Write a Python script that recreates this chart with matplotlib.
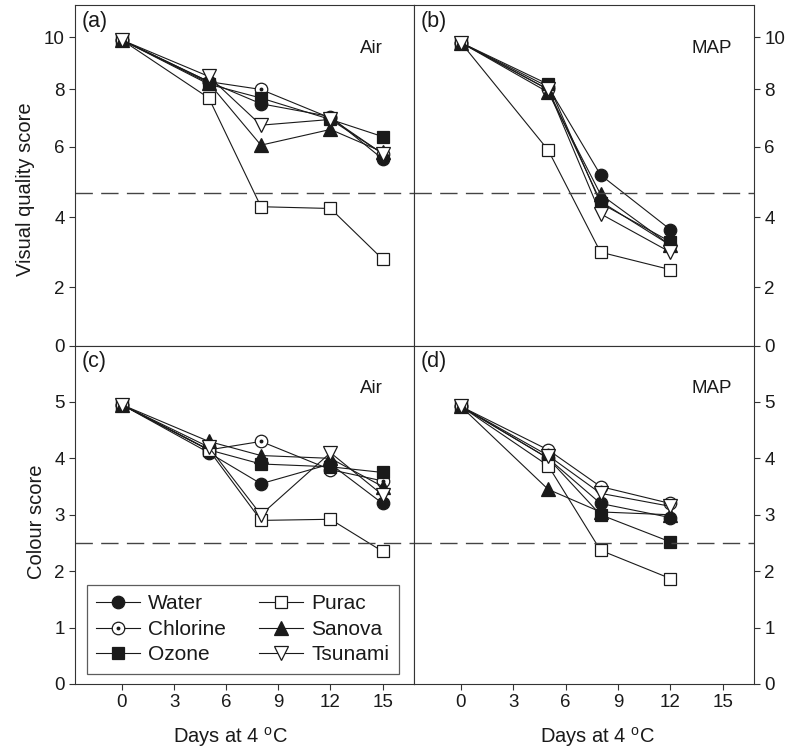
import numpy as np
import matplotlib
matplotlib.use('Agg')
import matplotlib.pyplot as plt
from matplotlib.lines import Line2D
from matplotlib.legend_handler import HandlerTuple

plt.rcParams['font.family'] = ['Liberation Sans Narrow', 'Liberation Sans', 'DejaVu Sans']
plt.rcParams['mathtext.default'] = 'regular'

TREATMENTS = ['Water', 'Chlorine', 'Ozone', 'Purac', 'Sanova', 'Tsunami']

DAYS_AIR = [0, 5, 8, 12, 15]
DAYS_MAP = [0, 5, 8, 12]

# rows follow TREATMENTS
VQ_AIR = [
    [9.9, 8.3, 7.5, 7.05, 5.65],
    [9.9, 8.3, 8.0, 7.0, 5.8],
    [9.9, 8.2, 7.7, 6.95, 6.35],
    [9.9, 7.7, 4.3, 4.25, 2.8],
    [9.9, 8.25, 6.05, 6.6, 5.85],
    [9.9, 8.5, 6.75, 6.95, 5.8],
]
VQ_MAP = [
    [9.8, 8.1, 5.2, 3.65],
    [9.8, 8.0, 4.45, 3.2],
    [9.8, 8.2, 4.4, 3.3],
    [9.8, 5.9, 3.0, 2.5],
    [9.8, 7.9, 4.65, 3.2],
    [9.8, 8.0, 4.1, 3.0],
]
CS_AIR = [
    [4.95, 4.1, 3.55, 3.9, 3.2],
    [4.95, 4.15, 4.3, 3.8, 3.6],
    [4.95, 4.15, 3.9, 3.85, 3.75],
    [4.95, 4.15, 2.9, 2.92, 2.35],
    [4.95, 4.3, 4.05, 4.0, 3.5],
    [4.95, 4.2, 3.0, 4.1, 3.35],
]
CS_MAP = [
    [4.92, 4.0, 3.2, 2.95],
    [4.92, 4.15, 3.5, 3.2],
    [4.92, 4.0, 3.0, 2.52],
    [4.92, 3.87, 2.37, 1.87],
    [4.92, 3.45, 3.05, 3.0],
    [4.92, 4.05, 3.38, 3.15],
]

VQ_LIMIT = 4.7
CS_LIMIT = 2.5

VQ_TICKS = [0, 2, 4, 6, 8, 10]
CS_TICKS = [0, 1, 2, 3, 4, 5]
DAY_TICKS = [0, 3, 6, 9, 12, 15]

# the printed visual-quality axis is not evenly spaced, so map it piecewise
VQ_SCALE_VALS = [0, 2, 4, 6, 8, 10, 11.2]
VQ_SCALE_FRAC = [0, 0.172, 0.377, 0.585, 0.753, 0.906, 1.0]


def vq_fwd(v):
    return np.interp(v, VQ_SCALE_VALS, VQ_SCALE_FRAC)


def vq_inv(f):
    return np.interp(f, VQ_SCALE_FRAC, VQ_SCALE_VALS)


INK = '#1a1a1a'
# marker, filled?, size
STYLE = {
    'Water':    ('o', True, 9),
    'Chlorine': ('o', False, 9),
    'Ozone':    ('s', True, 8.5),
    'Purac':    ('s', False, 8.5),
    'Sanova':   ('^', True, 9.5),
    'Tsunami':  ('v', False, 9.5),
}


def draw(ax, days, rows):
    for name, vals in zip(TREATMENTS, rows):
        m, filled, ms = STYLE[name]
        ax.plot(days, vals, color=INK, lw=0.8, marker=m, ms=ms,
                mfc=INK if filled else 'white', mec=INK, mew=0.9)
        if name == 'Chlorine':
            ax.plot(days, vals, ls='none', marker='o', ms=1.8, color=INK)


fig = plt.figure(figsize=(7.99, 7.5), dpi=100)
L, M, R = 0.0939, 0.518, 0.9437
B, C, T = 0.088, 0.5393, 0.9927
ax_a = fig.add_axes([L, C, M - L, T - C])
ax_b = fig.add_axes([M, C, R - M, T - C])
ax_c = fig.add_axes([L, B, M - L, C - B])
ax_d = fig.add_axes([M, B, R - M, C - B])

draw(ax_a, DAYS_AIR, VQ_AIR)
draw(ax_b, DAYS_MAP, VQ_MAP)
draw(ax_c, DAYS_AIR, CS_AIR)
draw(ax_d, DAYS_MAP, CS_MAP)

for ax in (ax_a, ax_b):
    ax.set_yscale('function', functions=(vq_fwd, vq_inv))
    ax.set_ylim(0, 11.2)
    ax.set_yticks(VQ_TICKS)
    ax.axhline(VQ_LIMIT, color='#444444', lw=1.0, dashes=(12.5, 6))
    ax.tick_params(axis='x', bottom=False, labelbottom=False)
for ax in (ax_c, ax_d):
    ax.set_ylim(0, 6)
    ax.set_yticks(CS_TICKS)
    ax.axhline(CS_LIMIT, color='#444444', lw=1.0, dashes=(12.5, 6))
    ax.set_xticks(DAY_TICKS)
    ax.set_xlabel('Days at 4 $^{o}$C', fontsize=14.5, color=INK, labelpad=10)

for ax in (ax_a, ax_b, ax_c, ax_d):
    ax.set_xlim(-2.7, 16.8)
    for s in ax.spines.values():
        s.set_linewidth(0.8)
        s.set_color('#333333')
    ax.tick_params(direction='out', length=4.5, width=0.8, labelsize=13.5,
                   colors='#333333', labelcolor=INK, pad=3)
    ax.minorticks_off()

for ax in (ax_b, ax_d):
    ax.yaxis.tick_right()
    ax.tick_params(axis='y', left=False, right=True, labelleft=False, labelright=True)

ax_c.xaxis.label.set_x(0.46)
ax_d.xaxis.label.set_x(0.54)

ax_a.set_ylabel('Visual quality score', fontsize=14.5, color=INK, labelpad=6)
ax_c.set_ylabel('Colour score', fontsize=14.5, color=INK, labelpad=6)
ax_a.yaxis.label.set_y(0.46)
ax_c.yaxis.label.set_y(0.48)

for ax, tag, cond in ((ax_a, '(a)', 'Air'), (ax_b, '(b)', 'MAP'),
                      (ax_c, '(c)', 'Air'), (ax_d, '(d)', 'MAP')):
    ax.text(0.02, 0.985, tag, transform=ax.transAxes, fontsize=15.5,
            color=INK, ha='left', va='top')
    ax.text(0.875, 0.873, cond, transform=ax.transAxes, fontsize=13.5,
            color=INK, ha='center', va='center')

handles = []
for name in TREATMENTS:
    m, filled, ms = STYLE[name]
    h = Line2D([], [], color=INK, lw=0.8, marker=m, ms=ms,
               mfc=INK if filled else 'white', mec=INK, mew=0.9)
    if name == 'Chlorine':
        h = (h, Line2D([], [], ls='none', marker='o', ms=1.8, color=INK))
    handles.append(h)

leg = ax_c.legend(handles, TREATMENTS, ncol=2, loc='lower left',
                  bbox_to_anchor=(0.034, 0.03), borderaxespad=0,
                  fontsize=15, frameon=True, fancybox=False,
                  handlelength=2.1, handletextpad=0.4, columnspacing=1.6,
                  labelspacing=0.32, borderpad=0.45,
                  handler_map={tuple: HandlerTuple(ndivide=1)})
leg.get_frame().set_edgecolor('#333333')
leg.get_frame().set_linewidth(0.9)
for t in leg.get_texts():
    t.set_color(INK)

fig.savefig('out.png', dpi=100)
